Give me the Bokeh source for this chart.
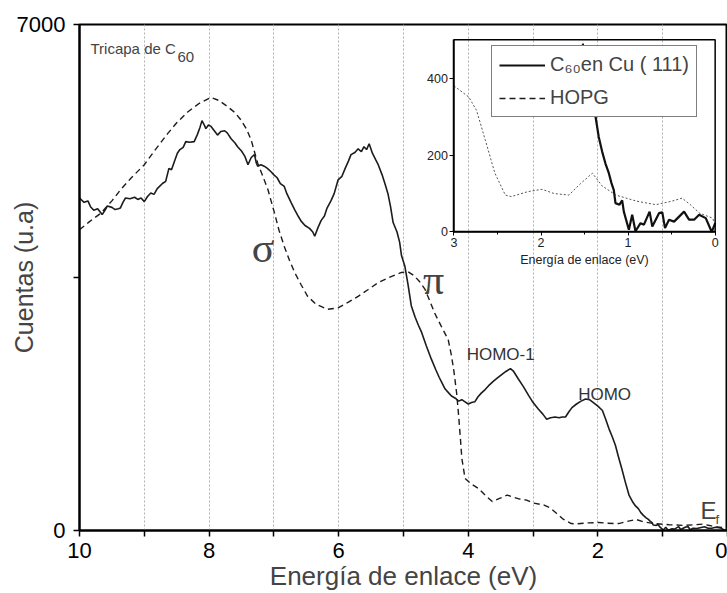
from bokeh.plotting import figure
from bokeh.models import (Range1d, LinearAxis, FixedTicker, Label, Legend, LegendItem,
                          ColumnDataSource)
from bokeh.embed import file_html
from bokeh.resources import INLINE

# ---------------- data ----------------
energy_c60 = [10.00, 9.93, 9.87, 9.83, 9.78, 9.72, 9.65, 9.60, 9.57, 9.50,
              9.45, 9.40, 9.37, 9.33, 9.29, 9.22, 9.15, 9.10, 9.05, 9.00,
              8.95, 8.90, 8.85, 8.80, 8.72, 8.67, 8.62, 8.58, 8.53, 8.49,
              8.45, 8.40, 8.36, 8.30, 8.23, 8.18, 8.14, 8.11, 8.07, 8.05,
              8.01, 7.97, 7.92, 7.87, 7.82, 7.76, 7.72, 7.66, 7.60, 7.56,
              7.50, 7.45, 7.40, 7.35, 7.30, 7.27, 7.25, 7.20, 7.15, 7.10,
              7.04, 7.00, 6.95, 6.90, 6.84, 6.80, 6.73, 6.68, 6.62, 6.58,
              6.52, 6.45, 6.40, 6.37, 6.32, 6.27, 6.22, 6.18, 6.12, 6.07,
              6.01, 5.95, 5.90, 5.85, 5.81, 5.75, 5.70, 5.65, 5.61, 5.57,
              5.53, 5.48, 5.43, 5.39, 5.33, 5.28, 5.24, 5.20, 5.16, 5.10,
              5.06, 5.03, 4.98, 4.93, 4.88, 4.82, 4.77, 4.72, 4.65, 4.57,
              4.50, 4.45, 4.41, 4.36, 4.30, 4.26, 4.20, 4.15, 4.10, 4.05,
              4.00, 3.95, 3.90, 3.85, 3.80, 3.74, 3.69, 3.62, 3.55, 3.48,
              3.42, 3.35, 3.30, 3.23, 3.15, 3.07, 3.00, 2.92, 2.85, 2.79,
              2.73, 2.66, 2.60, 2.55, 2.50, 2.45, 2.40, 2.33, 2.26, 2.19,
              2.13, 2.07, 2.00, 1.93, 1.88, 1.83, 1.78, 1.73, 1.68, 1.63,
              1.58, 1.52, 1.46, 1.42, 1.376, 1.337, 1.298, 1.26, 1.221, 1.191,
              1.164, 1.145, 1.099, 1.068, 1.049, 0.991, 0.953, 0.915, 0.857, 0.818,
              0.753, 0.722, 0.645, 0.607, 0.576, 0.530, 0.472, 0.357, 0.300, 0.242,
              0.184, 0.108, 0.039, 0.0]
counts_c60 = [4600, 4540, 4560, 4480, 4430, 4450, 4370, 4440, 4490, 4470,
              4440, 4450, 4460, 4540, 4600, 4590, 4610, 4580, 4600, 4550,
              4620, 4670, 4650, 4730, 4800, 4830, 5010, 4990, 5120, 5220,
              5270, 5300, 5380, 5370, 5380, 5480, 5580, 5670, 5600, 5560,
              5610, 5590, 5530, 5470, 5520, 5530, 5500, 5420, 5360, 5310,
              5250, 5180, 5060, 5160, 5200, 5080, 5040, 5060, 5040, 5010,
              4960, 4920, 4880, 4800, 4760, 4660, 4530, 4440, 4340, 4280,
              4220, 4180, 4130, 4070, 4190, 4290, 4350, 4460, 4560, 4660,
              4850, 4900, 5010, 5110, 5200, 5230, 5280, 5240, 5310, 5270,
              5350, 5220, 5130, 5060, 4920, 4780, 4660, 4480, 4260, 4130,
              3990, 3800, 3660, 3400, 3110, 2950, 2840, 2740, 2560, 2370,
              2220, 2120, 2050, 1960, 1900, 1860, 1830, 1790, 1810, 1780,
              1750, 1770, 1780, 1850, 1900, 1950, 2000, 2060, 2110, 2160,
              2200, 2240, 2200, 2100, 1990, 1870, 1770, 1680, 1610, 1540,
              1560, 1570, 1560, 1570, 1570, 1640, 1700, 1750, 1790, 1820,
              1810, 1770, 1720, 1660, 1540, 1410, 1300, 1180, 1010, 850,
              680, 490, 390, 340, 303, 247, 209, 178, 153, 127,
              109, 75, 71, 82, 53, 6, 45, 2, 23, 19,
              53, 14, 49, 51, 10, 32, 27, 53, 32, 32,
              45, 36, 0, 23]

energy_hopg = [10.00, 9.85, 9.67, 9.50, 9.37, 9.20, 9.00, 8.82, 8.64, 8.50,
               8.33, 8.15, 7.97, 7.85, 7.71, 7.60, 7.51, 7.42, 7.35, 7.25,
               7.17, 7.09, 6.99, 6.92, 6.84, 6.76, 6.68, 6.58, 6.48, 6.35,
               6.17, 6.01, 5.85, 5.70, 5.55, 5.39, 5.20, 5.03, 4.93, 4.83,
               4.75, 4.67, 4.60, 4.52, 4.42, 4.31, 4.26, 4.22, 4.18, 4.15,
               4.12, 4.10, 4.05, 3.95, 3.84, 3.73, 3.63, 3.50, 3.40, 3.23,
               3.10, 3.00, 2.83, 2.74, 2.64, 2.53, 2.41, 2.34, 2.15, 1.99,
               1.85, 1.68, 1.55, 1.41, 1.30, 1.14, 0.90, 0.68, 0.50, 0.38,
               0.28, 0.18, 0.03, 0.0]
counts_hopg = [4160, 4270, 4390, 4560, 4710, 4880, 5060, 5280, 5490, 5640,
               5790, 5910, 5990, 5950, 5860, 5780, 5680, 5550, 5400, 5080,
               4900, 4710, 4390, 4150, 3930, 3740, 3570, 3400, 3240, 3130,
               3060, 3080, 3160, 3240, 3330, 3430, 3510, 3570, 3580, 3520,
               3440, 3340, 3190, 3010, 2830, 2640, 2420, 2190, 1900, 1600,
               1250, 1000, 720, 640, 580, 480, 400, 450, 490, 440,
               420, 380, 351, 316, 239, 153, 96, 92, 105, 111,
               100, 96, 125, 153, 120, 96, 80, 71, 80, 88,
               70, 49, 36, 20]

assert len(energy_c60) == len(counts_c60)
assert len(energy_hopg) == len(counts_hopg)

x_major_ticks = [10, 8, 6, 4, 2, 0]
x_minor_ticks = [9, 7, 5, 3, 1]
y_major_ticks = [0, 7000]
y_minor_ticks = [3500]

inset_x_ticks = [3, 2, 1, 0]
inset_x_minor = [2.5, 1.5, 0.5]
inset_y_ticks = [0, 200, 400]
inset_e_limits = [3, 0]        # inset energy window
inset_c_limits = [0, 500]      # inset counts window

FONT = "Liberation Sans"
SERIF = "Liberation Serif"

# ---------------- layout geometry (pixels) ----------------
W, H = 727, 593
BL, BR, BT, BB = 79, 0, 24, 61
FW, FH = W - BL - 2, H - BT - BB                    # observed frame size
IN_L, IN_R, IN_T, IN_B = 373.3, 633.7, 15.3, 208.3   # inset box inside frame (from left / top)

p = figure(width=W, height=H, x_range=Range1d(10, 0), y_range=Range1d(0, 7000),
           output_backend="svg", toolbar_location=None,
           min_border_left=BL, min_border_right=BR, min_border_top=BT, min_border_bottom=BB,
           background_fill_color="white", border_fill_color="white")

p.outline_line_color = "black"
p.outline_line_width = 2

# main axes
p.xaxis.ticker = FixedTicker(ticks=x_major_ticks, minor_ticks=x_minor_ticks)
p.yaxis.ticker = FixedTicker(ticks=y_major_ticks, minor_ticks=y_minor_ticks)
for ax in (p.xaxis[0], p.yaxis[0]):
    ax.axis_line_color = "black"
    ax.axis_line_width = 2
    ax.major_tick_in = 0
    ax.major_tick_out = 6
    ax.minor_tick_in = 0
    ax.minor_tick_out = 6
    ax.major_tick_line_width = 1.5
    ax.minor_tick_line_width = 1.5
    ax.major_label_text_font = FONT
    ax.major_label_text_font_size = "22px"
    ax.major_label_text_color = "black"
p.xaxis.major_label_standoff = 6
p.yaxis.major_label_standoff = 8
p.xaxis.axis_label = "Energía de enlace (eV)"
p.xaxis.axis_label_text_font = FONT
p.xaxis.axis_label_text_font_size = "26px"
p.xaxis.axis_label_text_font_style = "normal"
p.xaxis.axis_label_standoff = 0
p.yaxis.axis_label = "Cuentas (u.a)"
p.yaxis.axis_label_text_font = FONT
p.yaxis.axis_label_text_font_size = "25px"
p.yaxis.axis_label_text_font_style = "normal"
p.yaxis.axis_label_standoff = -24

# grid
p.ygrid.grid_line_color = None
p.xgrid.grid_line_color = "#b0b0b0"
p.xgrid.grid_line_dash = "2 2"
p.xgrid.grid_line_width = 1
p.xgrid.minor_grid_line_color = "#b0b0b0"
p.xgrid.minor_grid_line_dash = "2 2"

# main curves
src_c60 = ColumnDataSource(dict(e=energy_c60, c=counts_c60))
src_hopg = ColumnDataSource(dict(e=energy_hopg, c=counts_hopg))
r_c60 = p.line("e", "c", source=src_c60, line_color="#1c1c1c", line_width=1.6)
r_hopg = p.line("e", "c", source=src_hopg, line_color="#1c1c1c", line_width=1.4,
                line_dash="6 4")

# ---------------- inset (extra ranges mapped onto a sub-box of the frame) ----------------
ix_scale = (IN_R - IN_L) / (inset_e_limits[0] - inset_e_limits[1])
iy_scale = ((FH - IN_T) - (FH - IN_B)) / (inset_c_limits[1] - inset_c_limits[0])
p.extra_x_ranges = {"ix": Range1d(inset_e_limits[0] + IN_L / ix_scale,
                                  inset_e_limits[1] - (FW - IN_R) / ix_scale)}
p.extra_y_ranges = {"iy": Range1d(inset_c_limits[0] - (FH - IN_B) / iy_scale,
                                  inset_c_limits[1] + IN_T / iy_scale)}

in_e_c60 = [e for e, c in zip(energy_c60, counts_c60) if e <= inset_e_limits[0] and c <= 520]
in_c_c60 = [c for e, c in zip(energy_c60, counts_c60) if e <= inset_e_limits[0] and c <= 520]
in_e_hopg = [e for e in energy_hopg if e <= inset_e_limits[0]]
in_c_hopg = [c for e, c in zip(energy_hopg, counts_hopg) if e <= inset_e_limits[0]]

p.line(in_e_hopg, in_c_hopg, x_range_name="ix", y_range_name="iy",
       line_color="#555555", line_width=1, line_dash="2 2")
r_in_c60 = p.line(in_e_c60, in_c_c60, x_range_name="ix", y_range_name="iy",
                  line_color="#111111", line_width=2.2)

p.quad(left=[inset_e_limits[0]], right=[inset_e_limits[1]],
       bottom=[inset_c_limits[0]], top=[inset_c_limits[1]],
       x_range_name="ix", y_range_name="iy",
       fill_color=None, line_color="black", line_width=1.5)

ax_ix = LinearAxis(x_range_name="ix", y_range_name="iy", fixed_location=inset_c_limits[0],
                   bounds=(inset_e_limits[1], inset_e_limits[0]),
                   ticker=FixedTicker(ticks=inset_x_ticks, minor_ticks=inset_x_minor),
                   axis_label="Energía de enlace (eV)")
ax_iy = LinearAxis(x_range_name="ix", y_range_name="iy", fixed_location=inset_e_limits[0],
                   bounds=(inset_c_limits[0], inset_c_limits[1]),
                   ticker=FixedTicker(ticks=inset_y_ticks, minor_ticks=[]))
for ax in (ax_ix, ax_iy):
    ax.axis_line_color = "black"
    ax.axis_line_width = 1.5
    ax.major_tick_in = 0
    ax.major_tick_out = 4
    ax.minor_tick_in = 0
    ax.minor_tick_out = 3
    ax.major_label_text_font = FONT
    ax.major_label_text_font_size = "12.5px"
    ax.major_label_text_color = "#222222"
    ax.major_label_standoff = 2
    ax.axis_label_text_font = FONT
    ax.axis_label_text_font_size = "12.5px"
    ax.axis_label_text_font_style = "normal"
    ax.axis_label_text_color = "#222222"
    ax.axis_label_standoff = 3
p.add_layout(ax_ix, "below")
p.add_layout(ax_iy, "left")

legend = Legend(items=[LegendItem(label="C\u2086\u2080en Cu ( 111)", renderers=[r_in_c60]),
                       LegendItem(label="HOPG", renderers=[r_hopg])],
                location=(IN_L + 38.7, FH - IN_B + 113.3), orientation="vertical",
                border_line_color="black", border_line_width=1.5,
                background_fill_color="white", background_fill_alpha=1.0,
                label_text_font=FONT, label_text_font_size="20px",
                glyph_width=46, glyph_height=22, label_height=22,
                spacing=10, padding=7, margin=0, label_standoff=5)
p.add_layout(legend)

# ---------------- annotations ----------------
p.add_layout(Label(x=11, y=482, x_units="screen", y_units="screen", text="Tricapa de C",
                   text_font=FONT, text_font_size="15px", text_baseline="alphabetic"))
p.add_layout(Label(x=98, y=474, x_units="screen", y_units="screen", text="60",
                   text_font=FONT, text_font_size="15px", text_baseline="alphabetic"))

p.add_layout(Label(x=7.167, y=3913, text="σ", text_font=SERIF, text_font_size="42px",
                   text_align="center", text_baseline="middle"))
p.add_layout(Label(x=4.535, y=3472, text="π", text_font=SERIF, text_font_size="42px",
                   text_align="center", text_baseline="middle"))
p.add_layout(Label(x=3.50, y=2439, text="HOMO-1", text_font=FONT, text_font_size="17px",
                   text_color="#333333", text_align="center", text_baseline="alphabetic"))
p.add_layout(Label(x=1.896, y=1888, text="HOMO", text_font=FONT, text_font_size="17px",
                   text_color="#333333", text_align="center", text_baseline="alphabetic"))
p.add_layout(Label(x=0.418, y=276, text="E", text_font=FONT, text_font_size="24px",
                   text_align="left", text_baseline="alphabetic"))
p.add_layout(Label(x=0.186, y=152, text="f", text_font=FONT, text_font_size="13px",
                   text_align="left", text_baseline="alphabetic"))

open("out.html", "w").write(file_html(p, INLINE))
